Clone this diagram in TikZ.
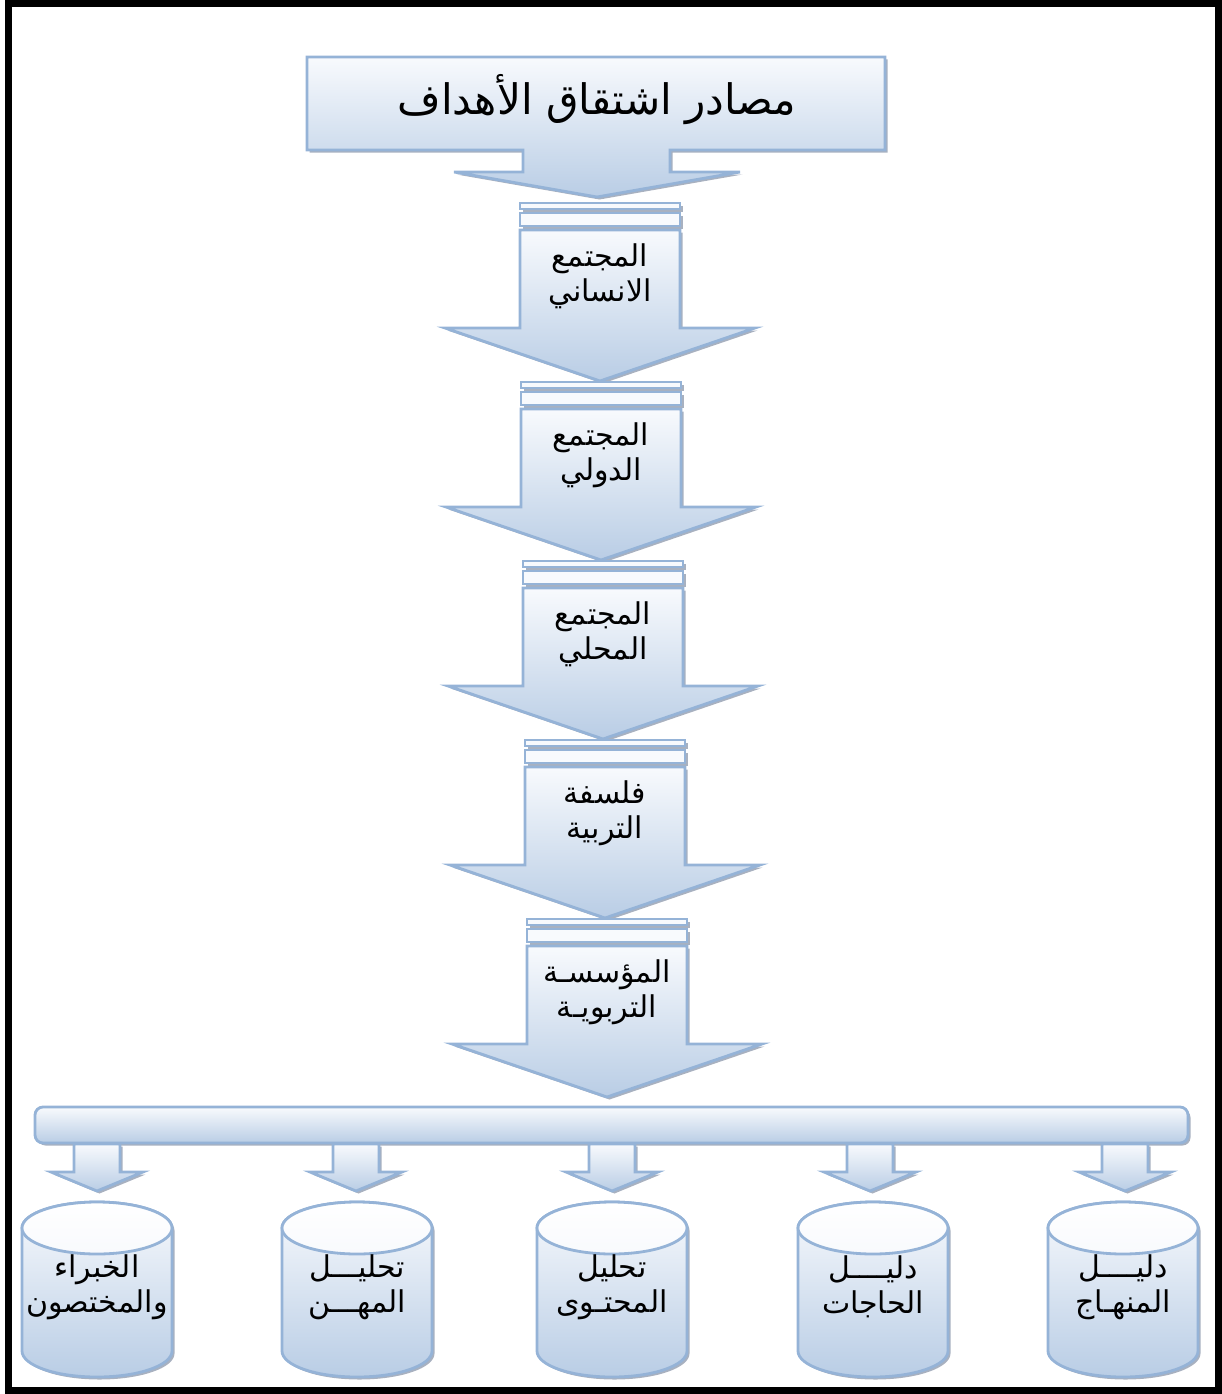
\documentclass[tikz,border=0pt]{standalone}
\usepackage{fontspec}
\usetikzlibrary{shadows}
\newfontfamily\arabicfont[Script=Arabic]{DejaVu Sans}
\TeXXeTstate=1
\definecolor{edgeblue}{RGB}{149,179,215}
\definecolor{fillbot}{RGB}{185,205,229}
\definecolor{filltop}{RGB}{248,250,253}
\definecolor{shadowc}{RGB}{110,125,150}
\tikzset{
  shapebox/.style={draw=edgeblue, line width=2.8pt, line join=miter, top color=filltop, bottom color=fillbot,
    drop shadow={shadow xshift=2.5pt, shadow yshift=-2.5pt, fill=shadowc, opacity=0.6}},
  stripebox/.style={draw=edgeblue, line width=2.5pt, fill=filltop,
    drop shadow={shadow xshift=2.5pt, shadow yshift=-2.5pt, fill=shadowc, opacity=0.6}},
  lidbox/.style={draw=edgeblue, line width=2.8pt, top color=white, bottom color=filltop},
  arlabel/.style={font=\arabicfont\fontsize{30}{35}\selectfont, align=center, inner sep=0pt},
  titlelabel/.style={font=\arabicfont\fontsize{42}{46}\selectfont, inner sep=0pt},
  frameline/.style={draw=black, line width=7pt}
}
\newcommand{\stripedarrow}[2]{%
  \path[stripebox] (#1-80,#2) rectangle (#1+80,#2+6);
  \path[stripebox] (#1-80,#2+10) rectangle (#1+80,#2+23);
  \path[shapebox] (#1-80,#2+27) -- (#1+80,#2+27) -- (#1+80,#2+125) -- (#1+155,#2+125)
     -- (#1,#2+178) -- (#1-155,#2+125) -- (#1-80,#2+125) -- cycle;
}
\newcommand{\smallarrow}[1]{%
  \path[shapebox] (#1-23,1144) -- (#1+23,1144) -- (#1+23,1172) -- (#1+46,1172)
     -- (#1,1191) -- (#1-46,1172) -- (#1-23,1172) -- cycle;
}
\newcommand{\drum}[1]{%
  \path[shapebox] (#1-75,1228) -- (#1-75,1351) arc (180:0:75 and 26) -- (#1+75,1228) arc (0:-180:75 and 26) -- cycle;
  \path[lidbox] (#1,1228) ellipse (75 and 26);
}
\begin{document}
\begin{tikzpicture}[x=1pt,y=-1pt]
\useasboundingbox (0,0) rectangle (1222,1394);
\path[frameline] (8.5,3.5) rectangle (1218.5,1390.5);

% title callout
\path[shapebox] (307,57) -- (885,57) -- (885,150) -- (670,150) -- (670,172) -- (740,172)
   -- (597,197) -- (454,172) -- (523,172) -- (523,150) -- (307,150) -- cycle;
\node[titlelabel] (title) at (597,100) {\beginR مصادر اشتقاق الأهداف\endR};

% striped arrows
\stripedarrow{600}{203}
\node[arlabel] (s1) at (600,276) {\beginR المجتمع\endR\\\beginR الانساني\endR};
\stripedarrow{601}{382}
\node[arlabel] (s2) at (601,455) {\beginR المجتمع\endR\\\beginR الدولي\endR};
\stripedarrow{603}{561}
\node[arlabel] (s3) at (603,634) {\beginR المجتمع\endR\\\beginR المحلي\endR};
\stripedarrow{605}{740}
\node[arlabel] (s4) at (605,813) {\beginR فلسفة\endR\\\beginR التربية\endR};
\stripedarrow{607}{919}
\node[arlabel] (s5) at (607,992) {\beginR المؤسسـة\endR\\\beginR التربويـة\endR};

% bar
\path[shapebox, rounded corners=8pt] (35,1107) rectangle (1188,1143);

% small arrows
\smallarrow{97}
\smallarrow{356}
\smallarrow{612}
\smallarrow{870}
\smallarrow{1125}

% drums
\drum{97}
\node[arlabel] (c1) at (97,1287) {\beginR الخبراء\endR\\\beginR والمختصون\endR};
\drum{357}
\node[arlabel] (c2) at (357,1287) {\beginR تحليـــل\endR\\\beginR المهـــن\endR};
\drum{612}
\node[arlabel] (c3) at (612,1287) {\beginR تحليل\endR\\\beginR المحتـوى\endR};
\drum{873}
\node[arlabel] (c4) at (873,1287) {\beginR دليــــل\endR\\\beginR الحاجات\endR};
\drum{1123}
\node[arlabel] (c5) at (1123,1287) {\beginR دليــــل\endR\\\beginR المنهـاج\endR};
\end{tikzpicture}
\end{document}
